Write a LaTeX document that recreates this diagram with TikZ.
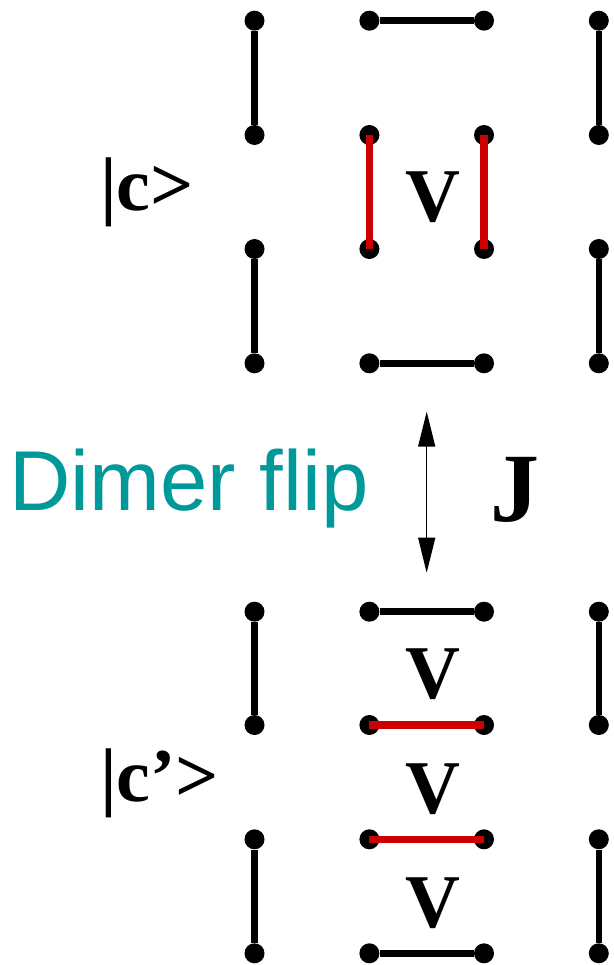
\documentclass[tikz,border=0pt]{standalone}
\usepackage{fontspec}
\setmainfont{Liberation Serif}
\setsansfont{Liberation Sans}
\usetikzlibrary{arrows.meta}
\definecolor{cred}{HTML}{CC0000}
\definecolor{cteal}{HTML}{009999}
\tikzset{
  every picture/.style={x=1pt, y=-1pt},
  site/.style={circle, fill=black, inner sep=0pt, minimum size=20pt},
  dimer/.style={draw=black, line width=6.5pt},
  flipped/.style={draw=cred, line width=7.5pt},
  flip/.style={{Triangle[length=35pt, width=17pt]}-{Triangle[length=35pt, width=17pt]}, line width=1.5pt},
  ket/.style={font=\fontsize{76}{76}\selectfont\bfseries, anchor=base west, inner sep=0pt},
  pot/.style={font=\fontsize{76}{76}\selectfont\bfseries, anchor=base, inner sep=0pt},
  title/.style={font=\sffamily\fontsize{85}{85}\selectfont, text=cteal, anchor=base, inner sep=0pt},
}

\begin{document}
\begin{tikzpicture}
  \useasboundingbox (0,0) rectangle (613,965);
  % |c> : two red vertical dimers
  \begin{scope}
    \foreach \i/\x in {1/254.5, 2/369.4, 3/484, 4/598.8}
      \foreach \j/\y in {1/20.7, 2/135, 3/249, 4/363.3}
        \node[site] (t\i\j) at (\x,\y) {};
    \foreach \a/\b in {t11/t12, t13/t14, t21/t31, t24/t34, t41/t42, t43/t44} \draw[dimer] (\a) -- (\b);
    \draw[flipped] (t22.center) -- (t23.center);
    \draw[flipped] (t32.center) -- (t33.center);
    \node[pot] (vt) at (433, 221.7) {V};
    \node[ket] (c) at (100, 210.5) {|c>};
  \end{scope}
  % flip between the two states
  \coordinate (up) at (426.7, 411.7);
  \coordinate (down) at (426.7, 572.7);
  \draw[flip] (up) -- (down);
  \node[title] (flip) at (189, 510) {Dimer flip};
  \node[font=\fontsize{98}{98}\selectfont\bfseries, inner sep=0pt] (j) at (514.5, 489.5) {J};
  % |c'> : two red horizontal dimers
  \begin{scope}
    \foreach \i/\x in {1/254.5, 2/369.4, 3/484, 4/598.8}
      \foreach \j/\y in {1/611.7, 2/725, 3/839.3, 4/953.3}
        \node[site] (b\i\j) at (\x,\y) {};
    \foreach \a/\b in {b11/b12, b13/b14, b21/b31, b24/b34, b41/b42, b43/b44} \draw[dimer] (\a) -- (\b);
    \draw[flipped] (b22.center) -- (b32.center);
    \draw[flipped] (b23.center) -- (b33.center);
    \node[pot] (v1) at (433, 698) {V};
    \node[pot] (v2) at (433, 813) {V};
    \node[pot] (v3) at (433, 927) {V};
    \node[ket] (cp) at (100, 801) {|c’>};
  \end{scope}
\end{tikzpicture}
\end{document}
